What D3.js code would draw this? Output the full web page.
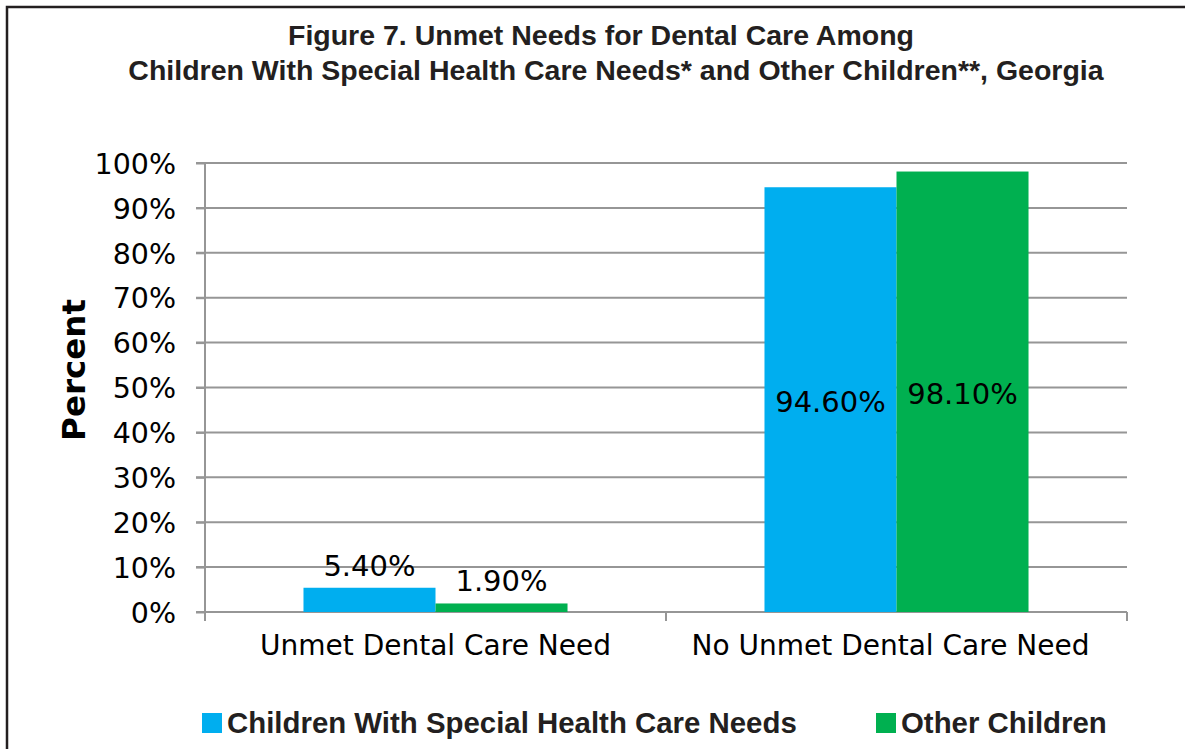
<!DOCTYPE html>
<html>
<head>
<meta charset="utf-8">
<script src="https://cdn.jsdelivr.net/npm/d3@7"></script>
<style>
  html, body { margin: 0; padding: 0; background: #fff; }
  svg { display: block; }
</style>
</head>
<body>
<svg id="chart" width="1185" height="749"></svg>
<script>
// Unmet dental care needs, Georgia
const categories = ["Unmet Dental Care Need", "No Unmet Dental Care Need"];
const seriesNames = ["Children With Special Health Care Needs", "Other Children"];
const cshcnValues = [5.4, 94.6];
const otherValues = [1.9, 98.1];
const valueLabels = [["5.40%", "94.60%"], ["1.90%", "98.10%"]];
const yTicks = [0, 10, 20, 30, 40, 50, 60, 70, 80, 90, 100];
const titleLines = [
  "Figure 7. Unmet Needs for Dental Care Among",
  "Children With Special Health Care Needs* and Other Children**, Georgia"
];
const colors = ["#00AEEF", "#00B050"];

const series = [cshcnValues, otherValues];

const svg = d3.select("#chart");
const axisFont = "Verdana, 'DejaVu Sans', sans-serif";
const boldFont = "Arial, 'Liberation Sans', Helvetica, sans-serif";

// Outer frame (right and bottom edges run past the page)
svg.append("rect")
  .attr("x", 7).attr("y", 7)
  .attr("width", 1200).attr("height", 800)
  .attr("fill", "none")
  .attr("stroke", "#231f20")
  .attr("stroke-width", 2.5);

// Title
const titleX = [601, 616];
svg.append("g").selectAll("text")
  .data(titleLines)
  .join("text")
  .attr("x", (d, i) => titleX[i])
  .attr("y", (d, i) => 45 + i * 35)
  .attr("text-anchor", "middle")
  .attr("font-family", boldFont)
  .attr("font-weight", "bold")
  .attr("font-size", 28.5)
  .attr("fill", "#231f20")
  .text(d => d);

const plot = { left: 205, right: 1127, top: 163, bottom: 612 };

const y = d3.scaleLinear().domain([0, 100]).range([plot.bottom, plot.top]);
const x0 = d3.scaleBand().domain(categories).range([plot.left, plot.right]).paddingInner(0).paddingOuter(0);
const x1 = d3.scaleBand().domain(d3.range(series.length))
  .range([0, x0.bandwidth()]).paddingInner(0).paddingOuter(0.746);

// Gridlines
svg.append("g").selectAll("line")
  .data(yTicks)
  .join("line")
  .attr("x1", plot.left - 9)
  .attr("x2", plot.right)
  .attr("y1", d => y(d))
  .attr("y2", d => y(d))
  .attr("stroke", "#969696")
  .attr("stroke-width", 2);

// Y axis
const yAxis = svg.append("g")
  .attr("transform", `translate(${plot.left},0)`)
  .call(d3.axisLeft(y).tickValues(yTicks).tickFormat(d => d + "%").tickSize(9).tickPadding(20));
yAxis.select(".domain").attr("stroke", "#969696").attr("stroke-width", 2)
  .attr("d", `M0,${plot.top}V${plot.bottom + 8}`);
yAxis.selectAll(".tick line").attr("stroke", "#969696").attr("stroke-width", 2);
yAxis.selectAll(".tick text")
  .attr("font-family", axisFont)
  .attr("font-size", 28.5)
  .attr("fill", "#000")
  .attr("dy", "0.36em");

// X axis
const xAxis = svg.append("g")
  .attr("transform", `translate(0,${plot.bottom})`)
  .call(d3.axisBottom(x0).tickSize(0).tickPadding(23));
xAxis.select(".domain").remove();
xAxis.selectAll(".tick text")
  .attr("font-family", axisFont)
  .attr("font-size", 28)
  .attr("fill", "#000")
  .attr("dx", (d, i) => i === 1 ? -6 : 0);
// Category boundary ticks
const boundaries = [plot.left, x0(categories[1]), plot.right];
svg.append("g").selectAll("line")
  .data(boundaries)
  .join("line")
  .attr("x1", d => d).attr("x2", d => d)
  .attr("y1", plot.bottom).attr("y2", plot.bottom + 9)
  .attr("stroke", "#969696")
  .attr("stroke-width", 2);

// Bars
const barData = [];
categories.forEach((c, ci) => {
  series.forEach((s, si) => {
    barData.push({ cat: c, si, ci, value: s[ci], label: valueLabels[si][ci] });
  });
});

svg.append("g").selectAll("rect")
  .data(barData)
  .join("rect")
  .attr("x", d => x0(d.cat) + x1(d.si))
  .attr("y", d => y(d.value))
  .attr("width", x1.bandwidth())
  .attr("height", d => plot.bottom - y(d.value))
  .attr("fill", d => colors[d.si]);

// Value labels: inside tall bars, above short ones
svg.append("g").selectAll("text")
  .data(barData)
  .join("text")
  .attr("x", d => x0(d.cat) + x1(d.si) + x1.bandwidth() / 2)
  .attr("y", d => d.value > 50 ? (y(d.value) + plot.bottom) / 2 + 12 : y(d.value) - 12)
  .attr("text-anchor", "middle")
  .attr("font-family", axisFont)
  .attr("font-size", 29)
  .attr("fill", "#000")
  .text(d => d.label);

// Y axis title
svg.append("text")
  .attr("transform", "translate(85,370) rotate(-90)")
  .attr("text-anchor", "middle")
  .attr("font-family", "Verdana, 'DejaVu Sans', sans-serif")
  .attr("font-weight", "bold")
  .attr("font-size", 32.5)
  .attr("fill", "#000")
  .text("Percent");

// Legend
const legendPos = [202, 876];
const legend = svg.append("g").selectAll("g")
  .data(seriesNames)
  .join("g")
  .attr("transform", (d, i) => `translate(${legendPos[i]},713)`);
legend.append("rect")
  .attr("width", 20).attr("height", 20)
  .attr("fill", (d, i) => colors[i]);
legend.append("text")
  .attr("x", 25).attr("y", 20)
  .attr("font-family", boldFont)
  .attr("font-weight", "bold")
  .attr("font-size", 29.4)
  .attr("fill", "#231f20")
  .text(d => d);
</script>
</body>
</html>
